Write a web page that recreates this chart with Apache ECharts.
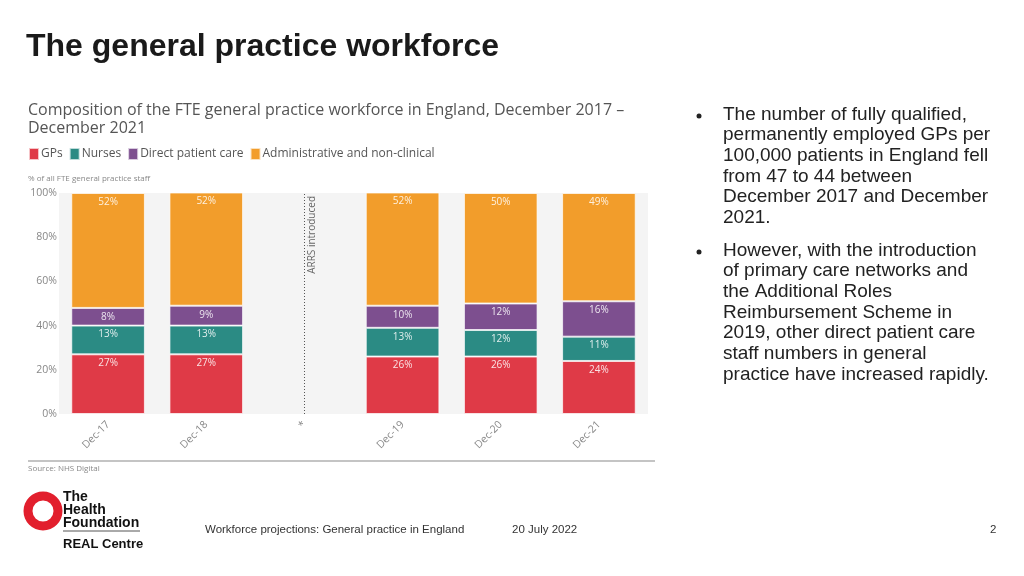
<!DOCTYPE html>
<html>
<head>
<meta charset="utf-8">
<script src="https://cdn.jsdelivr.net/npm/echarts@6/dist/echarts.min.js"></script>
<style>
html,body{margin:0;padding:0;background:#fff;}
#main{width:1024px;height:576px;}
</style>
</head>
<body>
<div id="main"></div>
<script>
// ---- data ----
const categories = ['Dec-17', 'Dec-18', '*', 'Dec-19', 'Dec-20', 'Dec-21'];
const gps       = [27, 27, null, 26, 26, 24];
const nurses    = [13, 13, null, 13, 12, 11];
const directPC  = [8, 9, null, 10, 12, 16];
const admin     = [52, 52, null, 52, 50, 49];
const seriesNames = ['GPs', 'Nurses', 'Direct patient care', 'Administrative and non-clinical'];
const yTicks = [0, 20, 40, 60, 80, 100];
const markerCategory = '*';
const markerText = 'ARRS introduced';

const colors = ['#df3a47', '#2b8b84', '#7d4f8f', '#f29d2b'];
const chart = echarts.init(document.getElementById('main'), null, {renderer: 'canvas'});
const chartFont = '"Open Sans", sans-serif';

const labelStyle = {
  show: true, position: 'insideTop', distance: 4,
  color: 'rgba(255,255,255,0.85)', fontSize: 10, fontFamily: chartFont,
  formatter: p => p.value + '%'
};
function mkSeries(name, data, idx) {
  return {
    name, type: 'bar', stack: 'all', data, barWidth: '75%',
    itemStyle: {color: colors[idx], borderColor: 'rgba(255,255,255,0.7)', borderWidth: 1},
    label: labelStyle
  };
}
const s = [
  mkSeries(seriesNames[0], gps, 0),
  mkSeries(seriesNames[1], nurses, 1),
  mkSeries(seriesNames[2], directPC, 2),
  mkSeries(seriesNames[3], admin, 3)
];
s[0].markLine = {
  symbol: 'none', silent: true,
  lineStyle: {color: '#555', type: [1, 2], width: 1},
  label: {show: true, formatter: markerText, position: 'insideEndBottom', color: '#666', fontSize: 10, fontFamily: chartFont, distance: 3},
  data: [{xAxis: markerCategory}]
};

const bullet1 = 'The number of fully qualified,\npermanently employed GPs per\n100,000 patients in England fell\nfrom 47 to 44 between\nDecember 2017 and December\n2021.';
const bullet2 = 'However, with the introduction\nof primary care networks and\nthe Additional Roles\nReimbursement Scheme in\n2019, other direct patient care\nstaff numbers in general\npractice have increased rapidly.';
const bodyFont = '"Liberation Sans", Arial, sans-serif';

chart.setOption({
  animation: false,
  backgroundColor: '#fff',
  color: colors,
  legend: {
    left: 28, top: 147, padding: 0, itemWidth: 10, itemHeight: 12, itemGap: 6,
    icon: 'rect',
    textStyle: {color: '#555', fontSize: 12, fontFamily: chartFont, padding: [0, 0, 0, -3]},
    data: seriesNames
  },
  grid: {left: 59, right: 376, top: 193, bottom: 162, show: true, backgroundColor: '#f4f4f4', borderWidth: 0},
  xAxis: {
    type: 'category', data: categories,
    axisLine: {show: false}, axisTick: {show: false},
    axisLabel: {rotate: 45, color: '#888', fontSize: 10.5, fontFamily: chartFont, margin: 9, interval: 0}
  },
  yAxis: {
    type: 'value', min: yTicks[0], max: yTicks[yTicks.length - 1], interval: 20,
    axisLine: {show: false}, axisTick: {show: false}, splitLine: {show: false},
    axisLabel: {formatter: '{value}%', color: '#888', fontSize: 10.5, fontFamily: chartFont, margin: 2}
  },
  series: s,
  graphic: [
    {type: 'text', left: 26, top: 31, style: {text: 'The general practice workforce', font: 'bold 32px "Liberation Sans", Arial, sans-serif', fill: '#1a1a1a'}},
    {type: 'text', left: 28, top: 101, style: {text: 'Composition of the FTE general practice workforce in England, December 2017 –\nDecember 2021', font: '16px "Open Sans", sans-serif', fill: '#555', lineHeight: 18}},
    {type: 'text', left: 28, top: 175, style: {text: '% of all FTE general practice staff', font: '8px "Open Sans", sans-serif', fill: '#888'}},
    {type: 'line', shape: {x1: 28, y1: 461, x2: 655, y2: 461}, style: {stroke: '#c4c4c4', lineWidth: 2}},
    {type: 'text', left: 28, top: 465, style: {text: 'Source: NHS Digital', font: '8px "Open Sans", sans-serif', fill: '#888'}},
    // right-hand text
    {type: 'circle', shape: {cx: 699, cy: 116, r: 2.5}, style: {fill: '#222'}},
    {type: 'text', left: 723, top: 104, style: {text: bullet1, font: '19px ' + bodyFont, fill: '#222', lineHeight: 20.7}},
    {type: 'circle', shape: {cx: 699, cy: 252, r: 2.5}, style: {fill: '#222'}},
    {type: 'text', left: 723, top: 240, style: {text: bullet2, font: '19px ' + bodyFont, fill: '#222', lineHeight: 20.7}},
    // logo
    {type: 'ring', shape: {cx: 43, cy: 511, r: 19.5, r0: 10.5}, style: {fill: '#e21f2d'}},
    {type: 'text', left: 63, top: 490, style: {text: 'The\nHealth\nFoundation', font: 'bold 14px "Liberation Sans Narrow", "Liberation Sans", Arial, sans-serif', fill: '#111', lineHeight: 13}},
    {type: 'line', shape: {x1: 63, y1: 531, x2: 140, y2: 531}, style: {stroke: '#555', lineWidth: 1}},
    {type: 'text', left: 63, top: 538, style: {text: 'REAL Centre', font: 'bold 13px "Liberation Sans Narrow", "Liberation Sans", Arial, sans-serif', fill: '#111'}},
    // footer
    {type: 'text', left: 205, top: 524, style: {text: 'Workforce projections: General practice in England', font: '11.5px ' + bodyFont, fill: '#333'}},
    {type: 'text', left: 512, top: 524, style: {text: '20 July 2022', font: '11.5px ' + bodyFont, fill: '#333'}},
    {type: 'text', left: 990, top: 524, style: {text: '2', font: '11.5px ' + bodyFont, fill: '#333'}}
  ]
});
</script>
</body>
</html>
